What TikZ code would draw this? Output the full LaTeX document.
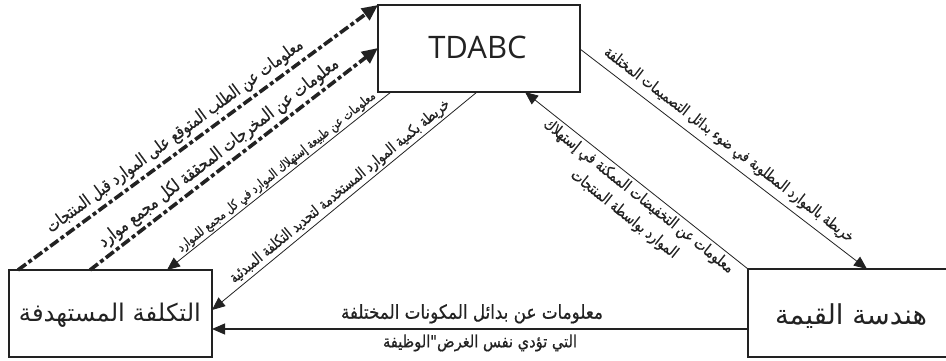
\documentclass[tikz,border=0pt]{standalone}
\usepackage{graphicx}
\usepackage{fontspec}
\usetikzlibrary{arrows.meta}
\TeXXeTstate=1
\newfontfamily\arfont[Script=Arabic]{DejaVu Sans}
\newfontfamily\arfontb[Script=Arabic,FakeBold=0.6]{DejaVu Sans}
\newfontfamily\latfont{Open Sans}
\newcommand\ARw[2]{\resizebox{#1}{!}{\arfont #2}}
\newcommand\ARl[2]{\resizebox{#1}{!}{\scalebox{1}[1.25]{\arfontb #2}}}
\definecolor{ink}{HTML}{222222}
\tikzset{
  box/.style={draw=ink, line width=1.3pt, inner sep=0pt, text=ink},
  thickdash/.style={draw=ink, line width=3.6pt, dash pattern=on 10pt off 3pt on 4pt off 3pt},
  thinline/.style={draw=ink, line width=0.8pt},
  bigtip/.style={-{Triangle[length=16pt,width=14pt]}},
  midtip/.style={-{Triangle[length=13pt,width=11pt]}},
  midtipstart/.style={{Triangle[length=13pt,width=11pt]}-},
  lab/.style={text=ink, inner sep=0pt, sloped}
}
\begin{document}
\begin{tikzpicture}[x=1pt,y=-1pt]
\useasboundingbox[fill=white] (0,0) rectangle (946,361);
% boxes
\node[box, minimum width=202pt, minimum height=87pt] (T) at (479,48.5) {};
\node[text=ink] (Tt) at (477.5,47) {\latfont\fontsize{31}{31}\selectfont TDABC};
\node[box, minimum width=203pt, minimum height=87pt] (L) at (110.5,313.5) {};
\node[text=ink] (Lt) at (110,315) {\ARw{182pt}{\beginR التكلفة المستهدفة\endR}};
\node[box, minimum width=202pt, minimum height=88pt] (R) at (849,313) {};
\node[text=ink] (Rt) at (851,316) {\ARw{152pt}{\beginR هندسة القيمة\endR}};
% end points
\coordinate (a1s) at (18,270);  \coordinate (a1e) at (378,5);
\coordinate (a2s) at (90,270);  \coordinate (a2e) at (378,48);
\coordinate (a3s) at (167,270); \coordinate (a3e) at (391,92);
\coordinate (a4s) at (212,310); \coordinate (a4e) at (477,92);
\coordinate (a5s) at (580,49);  \coordinate (a5e) at (867,269);
\coordinate (a6s) at (525,92);  \coordinate (a6e) at (748,269);
\coordinate (b1) at (748,329);  \coordinate (b2) at (212,329);
% thick dashed arrows to TDABC
\draw[thickdash, bigtip] (a1s) -- node[lab, pos=.46, above=4pt] {\ARl{314pt}{\beginR معلومات عن الطلب المتوقع على الموارد قبل المنتجات\endR}} (a1e);
\draw[thickdash, bigtip] (a2s) -- node[lab, pos=.477, above=3pt] {\ARl{298pt}{\beginR معلومات عن المخرجات المحققة لكل مجمع موارد\endR}} (a2e);
% thin arrows to target cost
\draw[thinline, midtipstart] (a3s) -- node[lab, pos=.513, above=1.5pt] {\ARl{249pt}{\beginR معلومات عن طبيعة إستهلاك الموارد في كل مجمع للموارد\endR}} (a3e);
\draw[thinline, midtipstart] (a4s) -- node[lab, pos=.507, above=2pt] {\ARl{280pt}{\beginR خريطة بكمية الموارد المستخدمة لتحديد التكلفة المبدئية\endR}} (a4e);
% right side
\draw[thinline, midtip] (a5s) -- node[lab, pos=.488, above=6pt] {\ARl{310pt}{\beginR خريطة بالموارد المطلوبة في ضوء بدائل التصميمات المختلفة\endR}} (a5e);
\draw[thinline, midtipstart] (a6s) -- node[lab, pos=.54, below=3pt, align=center] {\ARl{238pt}{\beginR معلومات عن التخفيضات الممكنة في إستهلاك\endR}\\[6pt]\ARl{132pt}{\beginR الموارد بواسطة المنتجات\endR}} (a6e);
% bottom
\draw[thinline, line width=1.1pt, midtip] (b1) -- node[text=ink, pos=.515, above=5pt, inner sep=0pt] {\resizebox{262pt}{!}{\scalebox{1}[1.15]{\arfontb\beginR معلومات عن بدائل المكونات المختلفة\endR}}} node[text=ink, pos=.5, below=5pt, inner sep=0pt] {\resizebox{194pt}{!}{\scalebox{1}[1.15]{\arfontb\beginR التي تؤدي نفس الغرض"الوظيفة\endR}}} (b2);
\end{tikzpicture}
\end{document}
